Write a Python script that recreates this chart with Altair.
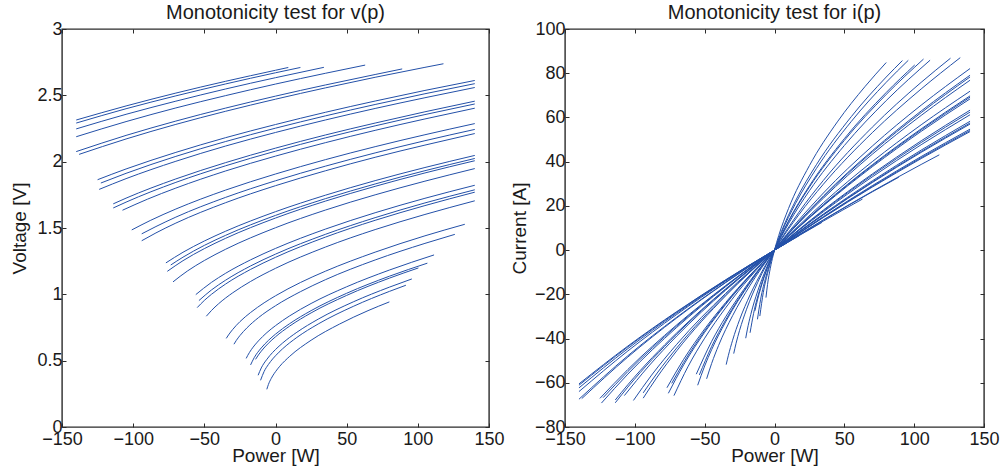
import altair as alt
import pandas as pd

X_TICKS = [-150, -100, -50, 0, 50, 100, 150]
V_TICKS = [0, 0.5, 1, 1.5, 2, 2.5, 3]
I_TICKS = [-80, -60, -40, -20, 0, 20, 40, 60, 80, 100]

# Group A: curves that stop at the upper voltage limit (~2.7 V)
A_P = [
    [-140, -105, -70, -35, 0, 9],
    [-140, -105, -70, -35, 0, 17.5],
    [-140, -105, -70, -35, 0, 34],
    [-140, -105, -70, -35, 0, 35, 63],
    [-140, -105, -70, -35, 0, 35, 70, 89],
    [-138, -105, -70, -35, 0, 35, 70, 105, 118],
]
A_V = [
    [2.314, 2.420, 2.517, 2.606, 2.689, 2.710],
    [2.291, 2.399, 2.496, 2.586, 2.670, 2.710],
    [2.247, 2.357, 2.456, 2.548, 2.633, 2.711],
    [2.188, 2.302, 2.405, 2.498, 2.585, 2.666, 2.728],
    [2.076, 2.198, 2.306, 2.404, 2.494, 2.578, 2.657, 2.699],
    [2.055, 2.171, 2.281, 2.380, 2.471, 2.556, 2.636, 2.711, 2.738],
]

# Group B: curves reaching the +140 W limit
B_P = [
    [-125, -105, -70, -35, 0, 35, 70, 105, 140],
    [-122.7, -105, -70, -35, 0, 35, 70, 105, 140],
    [-123.9, -105, -70, -35, 0, 35, 70, 105, 140],
    [-114, -105, -70, -35, 0, 35, 70, 105, 140],
    [-114, -105, -70, -35, 0, 35, 70, 105, 140],
    [-107.5, -90, -70, -35, 0, 35, 70, 105, 140],
    [-101, -88, -70, -35, 0, 35, 70, 105, 140],
    [-94, -84, -70, -35, 0, 35, 70, 105, 140],
    [-94, -84, -70, -35, 0, 35, 70, 105, 140],
    [-77, -65, -50, -35, 0, 35, 70, 105, 140],
    [-73.6, -65, -50, -35, 0, 35, 70, 105, 140],
    [-76, -65, -50, -35, 0, 35, 70, 105, 140],
    [-72, -62, -50, -35, 0, 35, 70, 105, 140],
]
B_V = [
    [1.864, 1.945, 2.070, 2.181, 2.280, 2.372, 2.457, 2.537, 2.612],
    [1.839, 1.912, 2.040, 2.152, 2.2525, 2.345, 2.431, 2.512, 2.588],
    [1.791, 1.872, 2.003, 2.118, 2.220, 2.314, 2.401, 2.482, 2.559],
    [1.682, 1.725, 1.870, 1.993, 2.102, 2.201, 2.291, 2.376, 2.456],
    [1.651, 1.695, 1.844, 1.969, 2.079, 2.179, 2.270, 2.355, 2.435],
    [1.634, 1.717, 1.801, 1.930, 2.042, 2.143, 2.236, 2.322, 2.403],
    [1.4855, 1.5565, 1.643, 1.786, 1.907, 2.015, 2.113, 2.203, 2.287],
    [1.456, 1.511, 1.582, 1.731, 1.856, 1.966, 2.066, 2.158, 2.243],
    [1.404, 1.463, 1.537, 1.691, 1.819, 1.931, 2.033, 2.125, 2.212],
    [1.237, 1.317, 1.402, 1.476, 1.623, 1.747, 1.857, 1.956, 2.047],
    [1.221, 1.280, 1.369, 1.445, 1.595, 1.721, 1.832, 1.932, 2.024],
    [1.1735, 1.2535, 1.3445, 1.4225, 1.575, 1.7025, 1.814, 1.915, 2.007],
    [1.094, 1.175, 1.255, 1.340, 1.502, 1.635, 1.750, 1.853, 1.948],
]

# Group C: lower curves also reaching +140 W
C_P = [
    [-56, -45, -35, -17.5, 0, 35, 70, 105, 140],
    [-53.8, -45, -35, -17.5, 0, 35, 70, 105, 140],
    [-55, -50, -45, -35, -17.5, 0, 35, 70, 105, 140],
    [-48.6, -45, -40, -30, -17.5, 0, 35, 70, 105, 140],
]
C_V = [
    [0.998, 1.090, 1.159, 1.260, 1.346, 1.4915, 1.615, 1.724, 1.822],
    [0.953, 1.033, 1.107, 1.214, 1.303, 1.452, 1.578, 1.689, 1.788],
    [0.900, 0.954, 1.000, 1.078, 1.188, 1.279, 1.431, 1.558, 1.669, 1.770],
    [0.835, 0.878, 0.929, 1.012, 1.097, 1.196, 1.356, 1.488, 1.602, 1.705],
]

# Group D and G: low-voltage curves stopping at the current limit
D_P = [
    [-34.6, -33, -30, -25, -17.5, -8, 0, 17.5, 35, 70, 105, 133],
    [-29.2, -27.5, -25, -20, -12, 0, 17.5, 35, 70, 105, 126],
]
D_V = [
    [0.668, 0.694, 0.736, 0.794, 0.863, 0.936, 0.989, 1.089, 1.174, 1.318, 1.441, 1.528],
    [0.624, 0.653, 0.689, 0.748, 0.824, 0.914, 1.020, 1.110, 1.259, 1.384, 1.452],
]
G_P = [
    [-20.6, -19.5, -17, -12, -6, 0, 10, 25, 50, 80, 111.4],
    [-17.5, -15, -10, -5, 0, 10, 25, 50, 80, 106.7],
    [-14, -12, -10, -5, 0, 10, 25, 50, 80, 100.4],
    [-12.2, -10, -6, -2, 0, 5, 15, 30, 55, 80, 95.8],
    [-10.5, -8, -5, -2, 0, 5, 15, 30, 55, 80, 91.6],
    [-6.1, -5, -3, -1, 0, 3, 10, 25, 45, 65, 80],
]
G_V = [
    [0.517, 0.540, 0.583, 0.649, 0.712, 0.764, 0.838, 0.931, 1.057, 1.183, 1.297],
    [0.468, 0.522, 0.596, 0.6525, 0.700, 0.7795, 0.877, 1.008, 1.1365, 1.235],
    [0.510, 0.543, 0.5715, 0.631, 0.680, 0.761, 0.860, 0.992, 1.122, 1.199],
    [0.390, 0.445, 0.511, 0.562, 0.584, 0.633, 0.714, 0.813, 0.945, 1.054, 1.116],
    [0.352, 0.4185, 0.471, 0.513, 0.537, 0.5896, 0.675, 0.7765, 0.911, 1.022, 1.0685],
    [0.284, 0.320, 0.366, 0.4015, 0.417, 0.458, 0.533, 0.654, 0.776, 0.877, 0.943],
]

rows = []
cid = 0
for PP, VV in [(A_P, A_V), (B_P, B_V), (C_P, C_V), (D_P, D_V), (G_P, G_V)]:
    for ps, vs in zip(PP, VV):
        for p, v in zip(ps, vs):
            rows.append({"curve": cid, "p": p, "v": v, "i": p / v})
        cid += 1
df = pd.DataFrame(rows)

FONT = "Liberation Sans"
FS_LABEL = 18
FS_TITLE = 19
FS_HEAD = 20
LINE = "#2350a8"
TXT = "#1a1a1a"
TICK = 4
LBL = "replace(datum.value + '', '-', '\u2212')"


def panel(yfield, ydom, yticks, ytitle, title, w, h, ytp):
    base = alt.Chart(df)
    xs = alt.Scale(domain=[-150, 150], nice=False, zero=False)
    ys = alt.Scale(domain=ydom, nice=False, zero=False)
    lines = base.mark_line(color=LINE, strokeWidth=1, interpolate="monotone").encode(
        x=alt.X("p:Q", scale=xs, axis=alt.Axis(
            orient="bottom", values=X_TICKS, labelExpr=LBL, title="Power [W]",
            offset=-TICK, tickSize=TICK, labelPadding=3, titlePadding=-2,
            labelFlush=False, labelOverlap=False)),
        y=alt.Y(yfield, scale=ys, axis=alt.Axis(
            orient="left", values=yticks, labelExpr=LBL, title=ytitle,
            offset=-TICK, tickSize=TICK, labelPadding=0, titlePadding=ytp,
            labelFlush=False, labelOverlap=False)),
        detail="curve:N",
    )
    frame = base.mark_point(opacity=0).encode(
        x=alt.X("p:Q", scale=xs, axis=alt.Axis(
            orient="top", values=X_TICKS, labels=False, title=None,
            offset=-TICK, tickSize=TICK)),
        y=alt.Y(yfield, scale=ys, axis=alt.Axis(
            orient="right", values=yticks, labels=False, title=None,
            offset=-TICK, tickSize=TICK)),
    )
    return alt.layer(lines, frame).resolve_axis(x="independent", y="independent").properties(
        width=w, height=h,
        title=alt.TitleParams(title, font=FONT, fontSize=FS_HEAD, fontWeight="normal",
                              color=TXT, offset=-3, anchor="middle"),
    )


left = panel("v:Q", [0, 3], V_TICKS, "Voltage [V]", "Monotonicity test for v(p)", 427, 398, 7)
right = panel("i:Q", [-80, 100], I_TICKS, "Current [A]", "Monotonicity test for i(p)", 419, 398, 5)

chart = alt.hconcat(left, right, spacing=76, bounds="flush").properties(
    autosize=alt.AutoSizeParams(type="pad"),
    padding={"left": 10, "top": 2, "right": 0, "bottom": 0},
).configure_view(
    stroke="#2b2b2b", strokeWidth=1.4
).configure_axis(
    labelFont=FONT, titleFont=FONT, labelFontSize=FS_LABEL, titleFontSize=FS_TITLE,
    titleFontWeight="normal", labelColor=TXT, titleColor=TXT,
    tickColor="#2b2b2b", tickWidth=1, domain=False, grid=False,
)

chart.save("out.html", embed_options={"renderer": "svg", "actions": False})
